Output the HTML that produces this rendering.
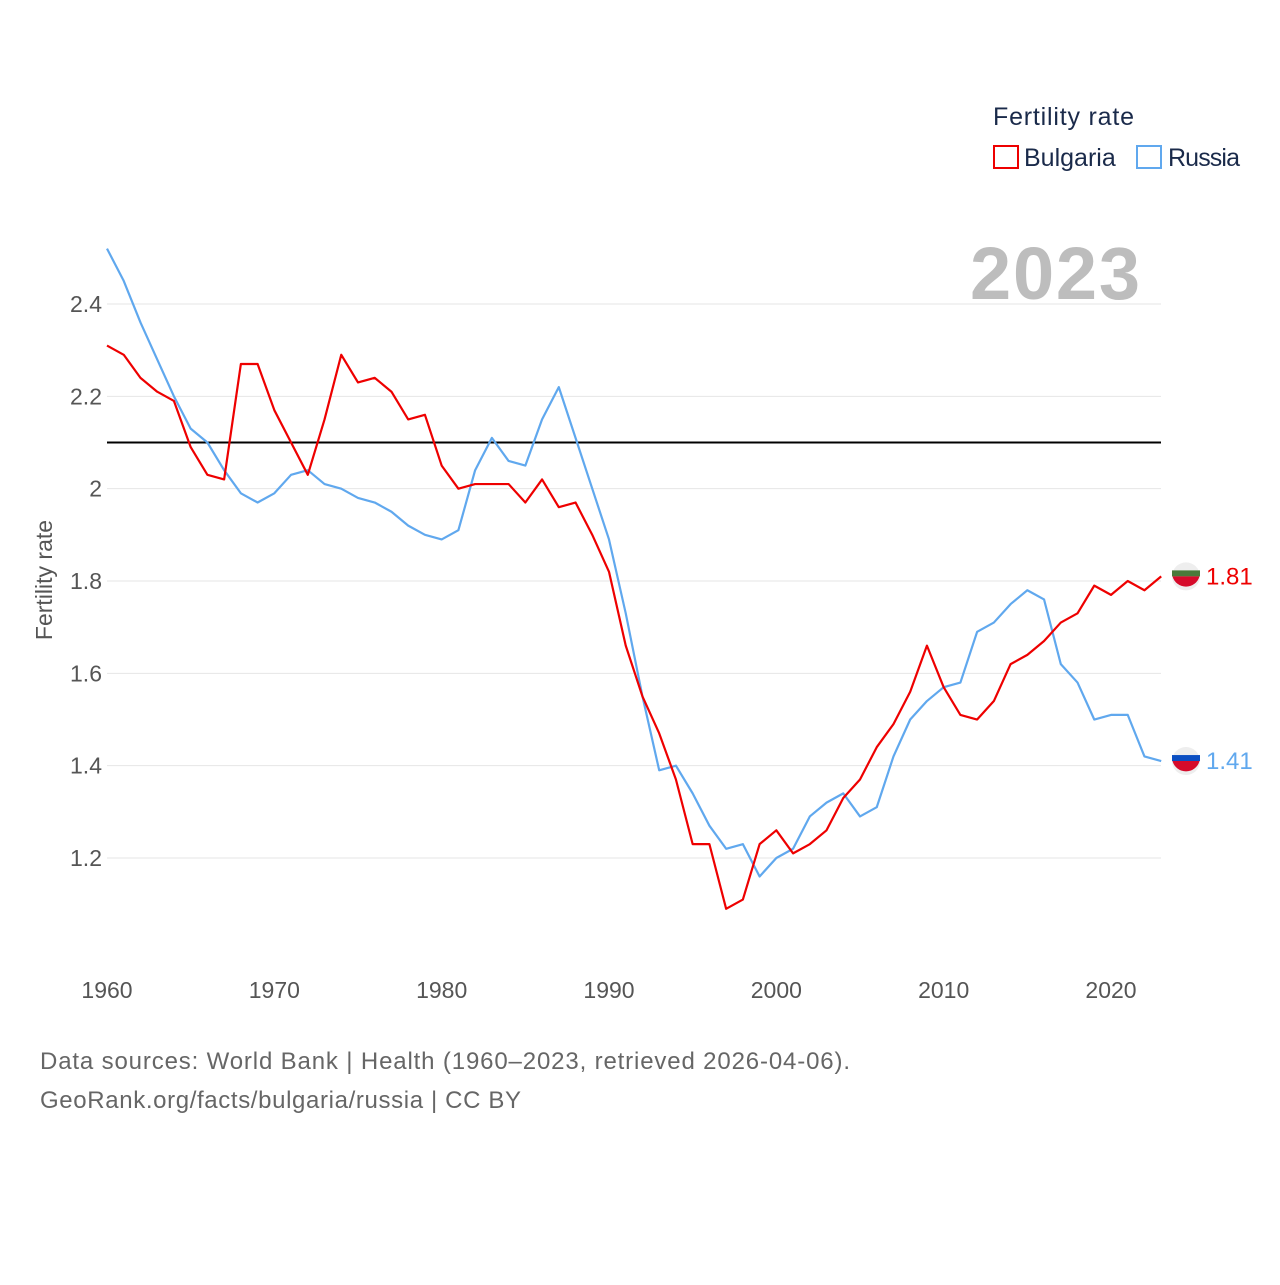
<!DOCTYPE html>
<html><head><meta charset="utf-8"><style>
body{margin:0;background:#fff;font-family:"Liberation Sans",sans-serif;}
svg text{font-family:"Liberation Sans",sans-serif;}
</style></head><body>
<svg id="chart" width="1280" height="1280" xmlns="http://www.w3.org/2000/svg">
<rect width="1280" height="1280" fill="#fff"/>
<g id="grid"></g>
<g id="axes"></g>
<g id="lines"></g>
<text x="1140" y="299" text-anchor="end" font-size="74" font-weight="bold" fill="#bdbdbd" textLength="170">2023</text>
<text x="52" y="580" transform="rotate(-90 52 580)" text-anchor="middle" font-size="23" fill="#555">Fertility rate</text>
<g>
<text x="993" y="125" font-size="25" fill="#1a2a4a" textLength="141">Fertility rate</text>
<g><rect x="994" y="146" width="24" height="22" fill="none" stroke="#ee0000" stroke-width="2"/><text x="1024" y="166" font-size="25" fill="#1a2a4a">Bulgaria</text></g>
<g><rect x="1137" y="146" width="24" height="22" fill="none" stroke="#60a8ee" stroke-width="2"/><text x="1168" y="166" font-size="25" fill="#1a2a4a" textLength="72">Russia</text></g>
</g>
<text x="40" y="1069" font-size="24" fill="#666" textLength="810">Data sources: World Bank | Health (1960–2023, retrieved 2026-04-06).</text>
<text x="40" y="1108" font-size="24" fill="#666" textLength="481">GeoRank.org/facts/bulgaria/russia | CC BY</text>
</svg>
<script>
const years=[];for(let y=1960;y<=2023;y++)years.push(y);
const bulgaria=[2.31,2.29,2.24,2.21,2.19,2.09,2.03,2.02,2.27,2.27,2.17,2.10,2.03,2.15,2.29,2.23,2.24,2.21,2.15,2.16,2.05,2.00,2.01,2.01,2.01,1.97,2.02,1.96,1.97,1.90,1.82,1.66,1.55,1.47,1.37,1.23,1.23,1.09,1.11,1.23,1.26,1.21,1.23,1.26,1.33,1.37,1.44,1.49,1.56,1.66,1.57,1.51,1.50,1.54,1.62,1.64,1.67,1.71,1.73,1.79,1.77,1.80,1.78,1.81];
const russia=[2.52,2.45,2.36,2.28,2.20,2.13,2.10,2.04,1.99,1.97,1.99,2.03,2.04,2.01,2.00,1.98,1.97,1.95,1.92,1.90,1.89,1.91,2.04,2.11,2.06,2.05,2.15,2.22,2.11,2.00,1.89,1.73,1.55,1.39,1.40,1.34,1.27,1.22,1.23,1.16,1.20,1.22,1.29,1.32,1.34,1.29,1.31,1.42,1.50,1.54,1.57,1.58,1.69,1.71,1.75,1.78,1.76,1.62,1.58,1.50,1.51,1.51,1.42,1.41];
const yTicks=[1.2,1.4,1.6,1.8,2,2.2,2.4];
const xTicks=[1960,1970,1980,1990,2000,2010,2020];
const replacement=2.1;
const X=y=>107+(y-1960)*(1004/60);
const Y=v=>304+(2.4-v)*461.67;
const NS="http://www.w3.org/2000/svg";
function mk(tag,attrs,parent){const e=document.createElementNS(NS,tag);for(const k in attrs)e.setAttribute(k,attrs[k]);parent.appendChild(e);return e;}
const grid=document.getElementById('grid'),axes=document.getElementById('axes'),lines=document.getElementById('lines');
yTicks.forEach(v=>{
 const l=mk('line',{x1:107,x2:1161,y1:Y(v),y2:Y(v),stroke:'#e6e6e6','stroke-width':1},grid);
 
 
 const t=mk('text',{x:102,y:Y(v)+8,'text-anchor':'end','font-size':23,fill:'#555'},axes);
 t.textContent=String(v);
 
 
});
xTicks.forEach(y=>{
 const t=mk('text',{x:X(y),y:998,'text-anchor':'middle','font-size':23,fill:'#555'},axes);
 t.textContent=String(y);
 
 
});
const rl=mk('line',{x1:107,x2:1161,y1:Y(replacement),y2:Y(replacement),stroke:'#000','stroke-width':2},lines);


function series(data,color,name){
 const p=mk('polyline',{points:data.map((v,i)=>X(years[i])+','+Y(v)).join(' '),fill:'none',stroke:color,'stroke-width':2.2,'stroke-linejoin':'round'},lines);
 
 
 const last=data[data.length-1],cy=Y(last);
 const g=mk('g',{},lines);
 
 
 mk('circle',{cx:1186,cy:cy,r:14,fill:'#eee'},g);
 const c=name==='bulgaria'?['#4a7a3a','#d60b2b']:['#0b4fc2','#d60b2b'];
 mk('rect',{x:1172,y:cy-6,width:28,height:6,fill:c[0]},g);
 mk('path',{d:`M1172.5 ${cy} h27 a14 14 0 0 1 -27 0z`,fill:c[1]},g);
 const t=mk('text',{x:1206,y:cy+8,'font-size':24,fill:color},g);
 t.textContent=last.toFixed(2);
 
 
}
series(russia,'#60a8ee','russia');
series(bulgaria,'#ee0000','bulgaria');
</script>
</body></html>
